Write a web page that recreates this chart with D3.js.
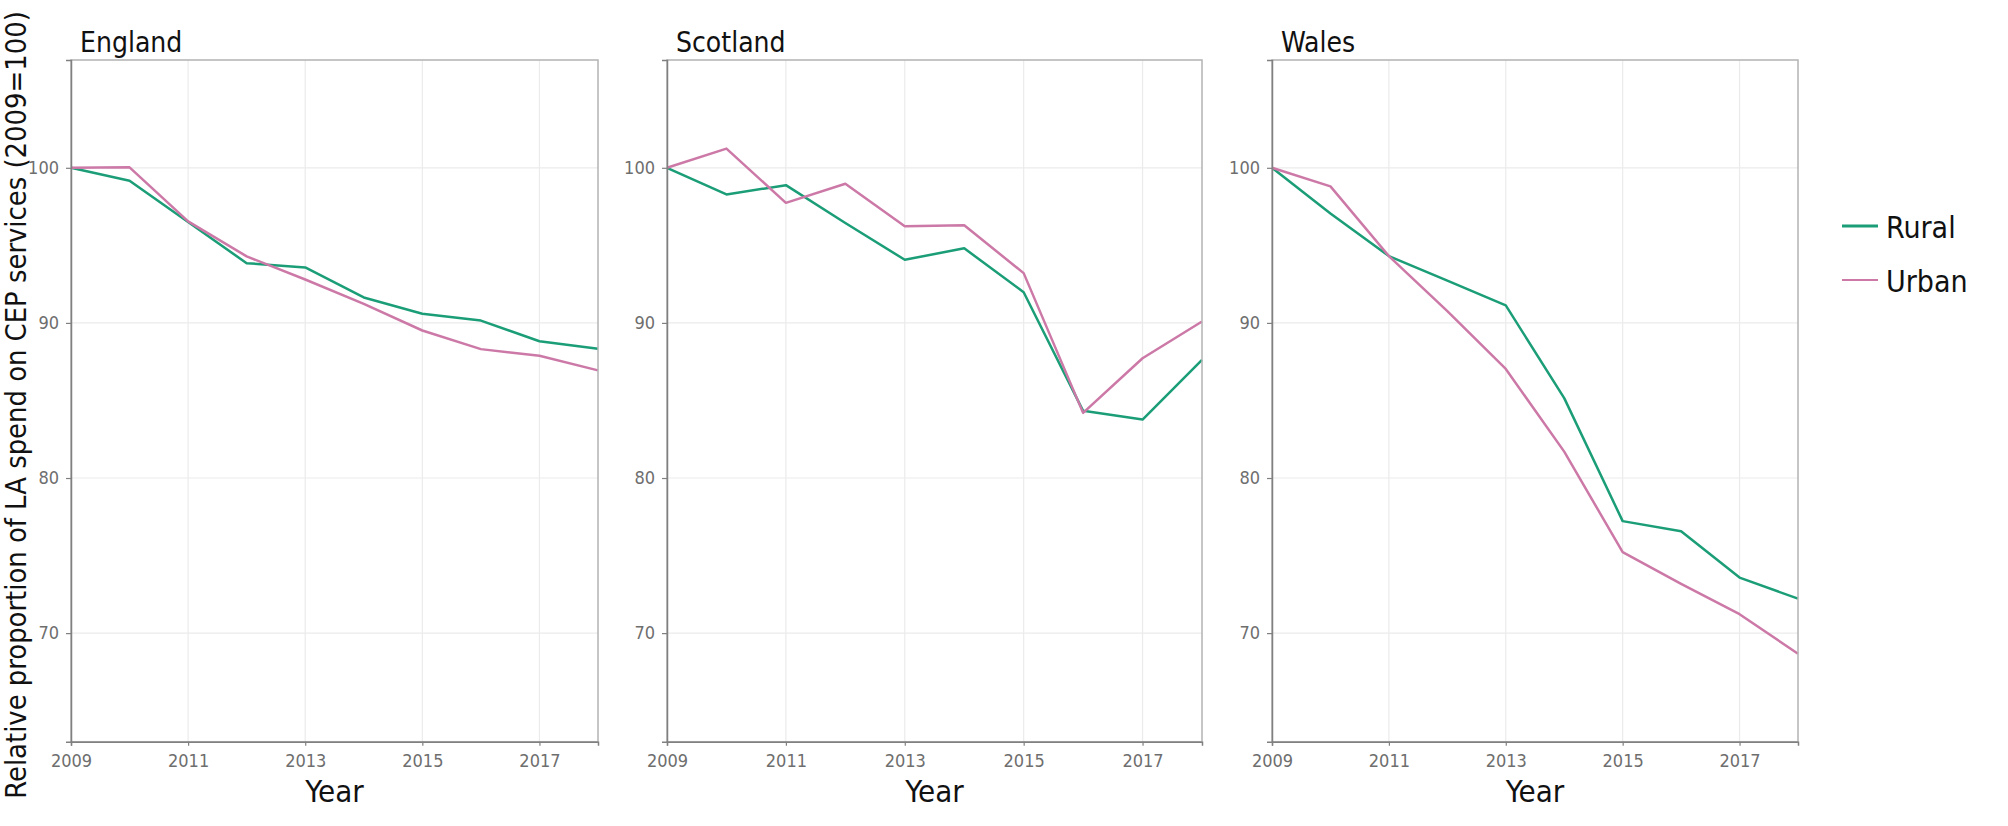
<!DOCTYPE html>
<html>
<head>
<meta charset="utf-8">
<script src="https://cdn.jsdelivr.net/npm/d3@7"></script>
<style>
  html, body { margin: 0; padding: 0; background: #fff; }
  svg text { font-family: "DejaVu Sans Condensed", "DejaVu Sans", sans-serif; font-stretch: condensed; }
</style>
</head>
<body>
<svg id="chart" width="2008" height="826"></svg>
<script>
// ---- data ----
const years = [2009, 2010, 2011, 2012, 2013, 2014, 2015, 2016, 2017, 2018];
const regions = ["England", "Scotland", "Wales"];
const seriesNames = ["Rural", "Urban"];
const englandRural  = [100, 99.17, 96.5, 93.85, 93.58, 91.64, 90.59, 90.15, 88.82, 88.34];
const englandUrban  = [100, 100.03, 96.55, 94.29, 92.8, 91.23, 89.51, 88.31, 87.88, 86.94];
const scotlandRural = [100, 98.28, 98.88, 96.44, 94.07, 94.81, 91.98, 84.33, 83.77, 87.61];
const scotlandUrban = [100, 101.24, 97.74, 98.97, 96.23, 96.29, 93.21, 84.2, 87.72, 90.09];
const walesRural    = [100, 97.05, 94.31, 92.73, 91.13, 85.15, 77.22, 76.57, 73.58, 72.22];
const walesUrban    = [100, 98.8, 94.31, 90.76, 87.03, 81.7, 75.22, 73.17, 71.22, 68.67];
const xTicks = [2009, 2011, 2013, 2015, 2017];
const yTicks = [70, 80, 90, 100];
const yDomain = [63.0, 106.95];
const xDomain = [2009, 2018];
const yLabel = "Relative proportion of LA spend on CEP services (2009=100)";
const xLabel = "Year";

const regionData = {
  England:  [englandRural, englandUrban],
  Scotland: [scotlandRural, scotlandUrban],
  Wales:    [walesRural, walesUrban]
};
const colors = { Rural: "#1b9e77", Urban: "#cc79a7" };

// ---- layout ----
const panels = [
  { left: 71,   right: 598 },
  { left: 667,  right: 1202 },
  { left: 1272, right: 1798 }
];
const plotTop = 60, plotBottom = 741.7;

const svg = d3.select("#chart");

const y = d3.scaleLinear().domain(yDomain).range([plotBottom, plotTop]);

regions.forEach((reg, i) => {
  const p = panels[i];
  const x = d3.scaleLinear().domain(xDomain).range([p.left, p.right]);
  const g = svg.append("g");

  // gridlines
  g.selectAll(".vg").data(xTicks.filter(t => t !== xDomain[0])).enter().append("line")
    .attr("x1", d => x(d)).attr("x2", d => x(d))
    .attr("y1", plotTop).attr("y2", plotBottom)
    .attr("stroke", "#ebebeb").attr("stroke-width", 1.2);
  g.selectAll(".hg").data(yTicks).enter().append("line")
    .attr("x1", p.left).attr("x2", p.right)
    .attr("y1", d => y(d)).attr("y2", d => y(d))
    .attr("stroke", "#ebebeb").attr("stroke-width", 1.2);

  // series lines
  const line = d3.line().x((d, j) => x(years[j])).y(d => y(d));
  regionData[reg].forEach((vals, k) => {
    g.append("path").datum(vals)
      .attr("d", line)
      .attr("fill", "none")
      .attr("stroke", colors[seriesNames[k]])
      .attr("stroke-width", 2.5)
      .attr("stroke-linejoin", "round");
  });

  // border
  g.append("rect")
    .attr("x", p.left).attr("y", plotTop)
    .attr("width", p.right - p.left).attr("height", plotBottom - plotTop)
    .attr("fill", "none").attr("stroke", "#b3b3b3").attr("stroke-width", 1.5);

  // axes
  const ax = g.append("g").attr("transform", `translate(0,${plotBottom})`)
    .call(d3.axisBottom(x).tickValues(xTicks).tickFormat(d3.format("d")).tickSize(4).tickPadding(9));
  const ay = g.append("g").attr("transform", `translate(${p.left},0)`)
    .call(d3.axisLeft(y).tickValues(yTicks).tickSize(5).tickPadding(7));
  [ax, ay].forEach(a => {
    a.select(".domain").attr("stroke", "#808080").attr("stroke-width", 1.5);
    a.selectAll(".tick line").attr("stroke", "#808080").attr("stroke-width", 1.2);
    a.selectAll(".tick text").attr("fill", "#6e6e6e").style("font-size", "18px")
      .style("font-family", '"DejaVu Sans Condensed", "DejaVu Sans", sans-serif');
  });

  // panel title
  g.append("text")
    .attr("x", p.left + 9).attr("y", 52)
    .style("font-size", "28px").attr("fill", "#111")
    .text(reg);

  // x axis title
  g.append("text")
    .attr("x", (p.left + p.right) / 2).attr("y", 802)
    .attr("text-anchor", "middle")
    .style("font-size", "31px").attr("fill", "#111")
    .text(xLabel);
});

// y axis label
const yl = svg.append("text")
  .attr("transform", "translate(26,405) rotate(-90)")
  .attr("text-anchor", "middle")
  .style("font-size", "25px").attr("fill", "#111")
  .text(yLabel);
const len = yl.node().getComputedTextLength();
yl.style("font-size", (25 * 788 / len) + "px");

// legend
const legend = svg.append("g");
seriesNames.forEach((s, k) => {
  const ly = 226 + k * 54;
  legend.append("line")
    .attr("x1", 1842).attr("x2", 1878)
    .attr("y1", ly).attr("y2", ly)
    .attr("stroke", colors[s]).attr("stroke-width", k === 0 ? 2.8 : 2);
  legend.append("text")
    .attr("x", 1886).attr("y", ly + 12)
    .style("font-size", "30px").attr("fill", "#111")
    .text(s);
});
</script>
</body>
</html>
